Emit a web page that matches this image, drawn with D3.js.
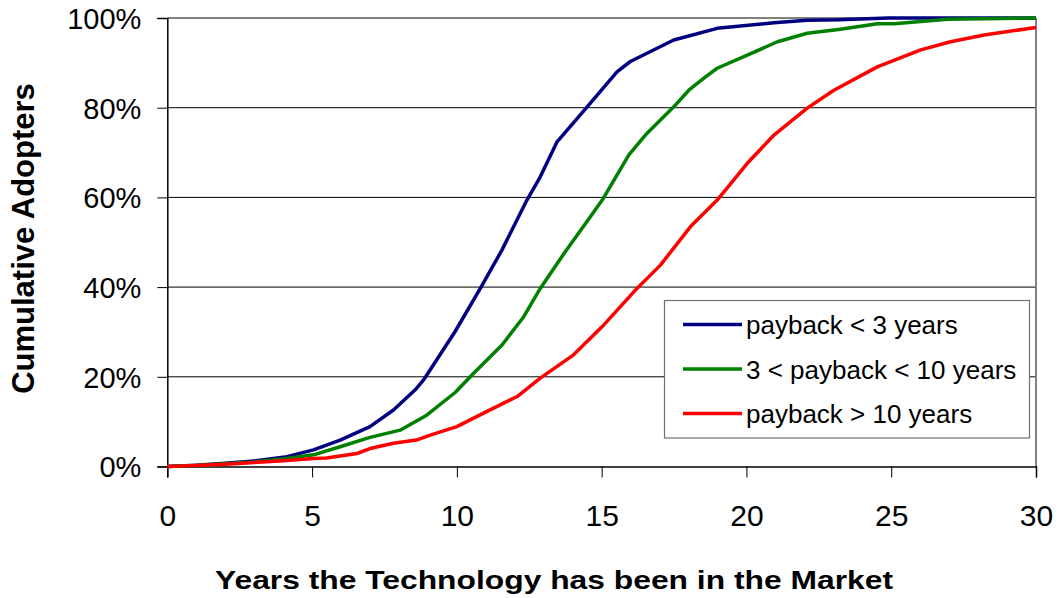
<!DOCTYPE html>
<html>
<head>
<meta charset="utf-8">
<script src="https://cdn.jsdelivr.net/npm/d3@7"></script>
<style>
  html, body { margin: 0; padding: 0; background: #fff; }
  svg { display: block; font-family: Arial, "Liberation Sans", sans-serif; }
</style>
</head>
<body>
<svg id="chart" width="1059" height="598"></svg>
<script>
// ---- data ----
const seriesNames = ["payback < 3 years", "3 < payback < 10 years", "payback > 10 years"];
const seriesColors = ["#000080", "#008000", "#FF0000"];

const fastYears = [0,1,2,3,4.13,5.05,5.97,7.0,7.81,8.59,8.85,9.94,10.81,11.56,12.42,12.88,13.46,14.5,15.53,15.99,17.49,18.99,20.95,22.1,23.2,24.9,30];
const fastValues = [0,0.3,0.7,1.2,2.2,3.7,5.9,8.9,12.6,17.3,19.3,30.1,39.7,48.3,59.4,64.6,72.4,80.2,88.0,90.3,95.1,97.7,98.95,99.5,99.6,100,100];

const midYears = [0,1,2,3,4,5.05,5.97,7.0,8.04,8.97,9.94,10.58,11.56,12.31,12.88,13.7,14.61,15.02,15.94,16.51,17.49,18.01,18.53,18.99,20.03,21.07,22.1,23.25,24.52,25.1,26.94,30];
const midValues = [0,0.2,0.6,1.0,1.7,2.6,4.4,6.5,8.1,11.5,16.5,20.8,27.1,33.4,39.7,47.5,55.7,59.4,69.5,73.9,80.2,83.9,86.6,88.8,91.7,94.7,96.6,97.5,98.7,98.7,99.7,100];

const slowYears = [0,1,2,3,4,5.05,5.5,6.55,7.0,7.81,8.6,9.08,10.0,10.92,12.08,12.88,14.03,15.02,16.22,17.03,18.07,18.99,20.03,20.95,22.1,23.02,24.52,26.02,27.05,28.21,30];
const slowValues = [0,0.2,0.5,0.9,1.3,1.8,1.9,2.9,4.0,5.2,5.9,7.0,8.9,11.9,15.6,19.7,24.9,31.2,39.7,44.9,53.5,59.4,67.6,73.9,79.9,83.9,89.1,92.9,94.7,96.2,97.9];

const xTicks = [0,5,10,15,20,25,30];
const yTicks = [0,20,40,60,80,100];
const xTitle = "Years the Technology has been in the Market";
const yTitle = "Cumulative Adopters";

// ---- layout ----
const svg = d3.select("#chart");
const plotL = 167.3, plotR = 1036, plotT = 18, plotB = 466.5;

const x = d3.scaleLinear().domain([0, 30]).range([plotL, plotR]);
const y = d3.scaleLinear().domain([0, 100]).range([plotB, plotT]);

// gridlines
svg.append("g").selectAll("line")
  .data(yTicks.filter(d => d > 0 && d < 100))
  .join("line")
  .attr("x1", plotL).attr("x2", plotR)
  .attr("y1", d => y(d)).attr("y2", d => y(d))
  .attr("stroke", "#000").attr("stroke-width", 1);

// top & right border (gray)
svg.append("line").attr("x1", plotL).attr("x2", plotR).attr("y1", y(100)).attr("y2", y(100))
  .attr("stroke", "#808080").attr("stroke-width", 2);
svg.append("line").attr("x1", plotR).attr("x2", plotR).attr("y1", plotT).attr("y2", plotB)
  .attr("stroke", "#808080").attr("stroke-width", 2);

// y axis
const yAxis = d3.axisLeft(y).tickValues(yTicks).tickFormat(d => d + "%").tickSize(10).tickPadding(16);
const gy = svg.append("g").attr("transform", `translate(${plotL},0)`).call(yAxis);
gy.select(".domain").attr("stroke", "#000").attr("stroke-width", 1.5);
gy.selectAll(".tick line").attr("stroke", "#000").attr("stroke-width", 1);
gy.selectAll(".tick text").attr("font-size", 29).attr("fill", "#000")
  .attr("font-family", "Arial, 'Liberation Sans', sans-serif").attr("dy", "0.36em");

// x axis
const xAxis = d3.axisBottom(x).tickValues(xTicks).tickFormat(d3.format("d")).tickSize(11).tickPadding(27);
const gx = svg.append("g").attr("transform", `translate(0,${plotB})`).call(xAxis);
gx.select(".domain").attr("stroke", "#000").attr("stroke-width", 1.5);
gx.selectAll(".tick line").attr("stroke", "#000").attr("stroke-width", 1);
gx.selectAll(".tick text").attr("font-size", 30).attr("fill", "#000")
  .attr("font-family", "Arial, 'Liberation Sans', sans-serif");

// lines
const series = [
  { name: seriesNames[0], color: seriesColors[0], xs: fastYears, vs: fastValues },
  { name: seriesNames[1], color: seriesColors[1], xs: midYears, vs: midValues },
  { name: seriesNames[2], color: seriesColors[2], xs: slowYears, vs: slowValues }
];
const line = d3.line().x(d => x(d[0])).y(d => y(d[1]));
svg.append("g").selectAll("path")
  .data(series)
  .join("path")
  .attr("d", s => line(s.xs.map((t, i) => [t, s.vs[i]])))
  .attr("fill", "none")
  .attr("stroke", s => s.color)
  .attr("stroke-width", 3.5)
  .attr("stroke-linejoin", "round");

// legend
const lg = svg.append("g");
lg.append("rect").attr("x", 664.5).attr("y", 300.5).attr("width", 365).attr("height", 137.5)
  .attr("fill", "#fff").attr("stroke", "#707070").attr("stroke-width", 1.2);
const rowY = [324.5, 369, 413.5];
series.forEach((s, i) => {
  lg.append("line").attr("x1", 683).attr("x2", 742).attr("y1", rowY[i]).attr("y2", rowY[i])
    .attr("stroke", s.color).attr("stroke-width", 3.5);
  lg.append("text").attr("x", 746).attr("y", rowY[i] + 9.5)
    .attr("font-size", 26).attr("fill", "#000").text(s.name);
});

// axis titles
svg.append("text").attr("x", 554).attr("y", 589)
  .attr("text-anchor", "middle").attr("font-size", 25).attr("font-weight", "bold")
  .attr("textLength", 678).attr("lengthAdjust", "spacingAndGlyphs")
  .text(xTitle);
svg.append("text").attr("transform", "translate(34,238.5) rotate(-90)")
  .attr("text-anchor", "middle").attr("font-size", 31).attr("font-weight", "bold")
  .text(yTitle);
</script>
</body>
</html>
